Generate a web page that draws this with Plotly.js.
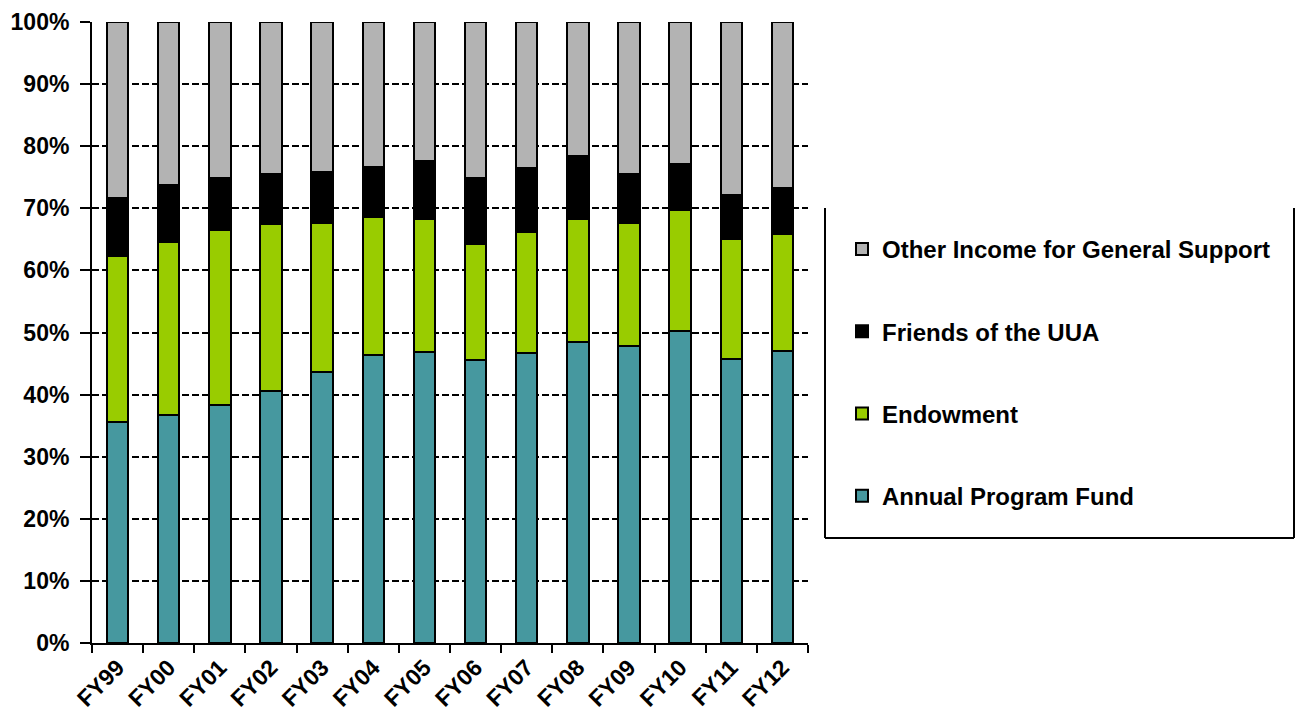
<!DOCTYPE html>
<html>
<head>
<meta charset="utf-8">
<script src="https://cdn.plot.ly/plotly-3.0.1.min.js"></script>
<style>
  html, body { margin: 0; padding: 0; background: #ffffff; }
  #chart { width: 1298px; height: 717px; }
</style>
</head>
<body>
<div id="chart"></div>
<script>
// Fiscal years
var categories = ["FY99","FY00","FY01","FY02","FY03","FY04","FY05","FY06","FY07","FY08","FY09","FY10","FY11","FY12"];

// Shares of total (percent)
var annualProgramFund = [35.6, 36.7, 38.4, 40.6, 43.7, 46.4, 46.8, 45.5, 46.7, 48.5, 47.8, 50.2, 45.8, 47.1];
var endowment         = [26.8, 27.9, 28.1, 26.9, 24.0, 22.2, 21.5, 18.7, 19.5, 19.7, 19.8, 19.5, 19.2, 18.8];
var friendsOfUUA      = [ 9.2,  9.2,  8.3,  8.1,  8.2,  8.0,  9.3, 10.6, 10.3, 10.3,  8.0,  7.5,  7.1,  7.3];
var otherIncome       = [28.4, 26.2, 25.2, 24.4, 24.1, 23.4, 22.4, 25.2, 23.5, 21.5, 24.4, 22.8, 27.9, 26.8];

var seriesNames = ["Annual Program Fund", "Endowment", "Friends of the UUA", "Other Income for General Support"];
var yTickVals = [0, 10, 20, 30, 40, 50, 60, 70, 80, 90, 100];
var yTickText = ["0%", "10%", "20%", "30%", "40%", "50%", "60%", "70%", "80%", "90%", "100%"];

var colors = ["#46989F", "#99CC00", "#000000", "#B3B3B3"];
var seriesValues = [annualProgramFund, endowment, friendsOfUUA, otherIncome];

var FONT = "Liberation Sans, Arial, Helvetica, sans-serif";

var traces = seriesValues.map(function (vals, i) {
  return {
    type: "bar",
    name: seriesNames[i],
    x: categories,
    y: vals,
    legendgroup: "g" + i,
    legendrank: 1000 - i,
    marker: { color: colors[i], line: { color: "#000000", width: 2 } },
    hoverinfo: "skip"
  };
});

// plot area: x 92..808, y 22..643
function px2paperX(px) { return (px - 92) / 716; }
function px2paperY(py) { return (643 - py) / 621; }

var layout = {
  width: 1298,
  height: 717,
  margin: { l: 92, r: 490, t: 22, b: 74 },
  paper_bgcolor: "#ffffff",
  plot_bgcolor: "#ffffff",
  barmode: "stack",
  bargap: 0.58,
  showlegend: true,
  font: { family: FONT, color: "#000000", size: 22, weight: "bold" },
  xaxis: {
    type: "category",
    showline: true,
    linecolor: "#000000",
    linewidth: 2,
    ticks: "outside",
    tickson: "boundaries",
    ticklen: 8,
    tickwidth: 2,
    tickcolor: "#000000",
    tickangle: -45,
    tickfont: { family: FONT, size: 23, color: "#000000", weight: "bold" },
    showgrid: false,
    zeroline: false
  },
  yaxis: {
    range: [0, 100],
    tickmode: "array",
    tickvals: yTickVals,
    ticktext: yTickText,
    showline: true,
    linecolor: "#000000",
    linewidth: 2,
    ticks: "outside",
    ticklen: 10,
    tickwidth: 2,
    tickcolor: "#000000",
    ticklabelstandoff: 6,
    tickfont: { family: FONT, size: 23, color: "#000000", weight: "bold" },
    showgrid: true,
    gridcolor: "#000000",
    gridwidth: 2,
    griddash: "7px,3px",
    zeroline: false
  },
  legend: {
    x: px2paperX(842),
    xanchor: "left",
    y: px2paperY(227),
    yanchor: "top",
    traceorder: "grouped",
    tracegroupgap: 48,
    bgcolor: "rgba(0,0,0,0)",
    borderwidth: 0,
    font: { family: FONT, size: 24, color: "#000000", weight: "bold" }
  },
  shapes: [
    { type: "line", xref: "paper", yref: "paper",
      x0: px2paperX(825), x1: px2paperX(825), y0: px2paperY(208), y1: px2paperY(538),
      line: { color: "#000000", width: 2 } },
    { type: "line", xref: "paper", yref: "paper",
      x0: px2paperX(825), x1: px2paperX(1294), y0: px2paperY(538), y1: px2paperY(538),
      line: { color: "#000000", width: 2 } },
    { type: "line", xref: "paper", yref: "paper",
      x0: px2paperX(1294), x1: px2paperX(1294), y0: px2paperY(208), y1: px2paperY(538),
      line: { color: "#000000", width: 2 } }
  ]
};

Plotly.newPlot("chart", traces, layout, { staticPlot: true, displayModeBar: false });
</script>
</body>
</html>
